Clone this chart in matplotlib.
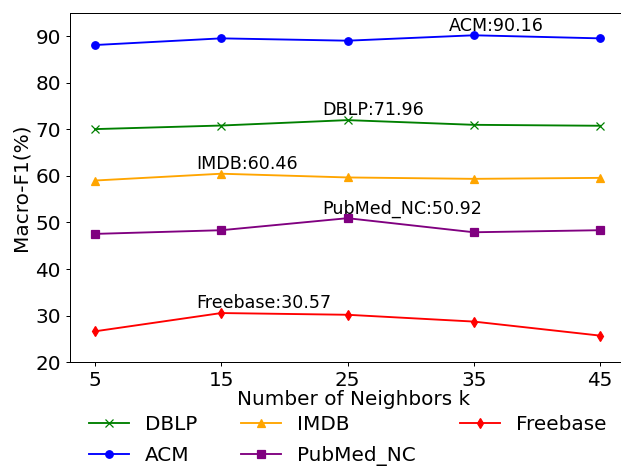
import matplotlib
matplotlib.use("Agg")
import matplotlib.pyplot as plt

k_values = [5, 15, 25, 35, 45]
dblp = [70.03, 70.8, 71.96, 70.95, 70.75]
acm = [88.07, 89.5, 89.0, 90.16, 89.5]
imdb = [59.0, 60.46, 59.66, 59.36, 59.57]
pubmed = [47.55, 48.34, 50.92, 47.9, 48.34]
freebase = [26.65, 30.57, 30.2, 28.74, 25.73]

series = [
    ("DBLP", dblp, "green", "x"),
    ("ACM", acm, "blue", "o"),
    ("IMDB", imdb, "orange", "^"),
    ("PubMed_NC", pubmed, "purple", "s"),
    ("Freebase", freebase, "red", "d"),
]

DPI = 90
fig = plt.figure(figsize=(621 / DPI, 466 / DPI), dpi=DPI)
ax = fig.add_axes([0.1123, 0.2225, 0.9149, 0.7502])

for name, vals, color, marker in series:
    ax.plot(k_values, vals, color=color, marker=marker, linewidth=1.5,
            markersize=6, label=name)
    i = max(range(len(vals)), key=lambda j: vals[j])
    ax.text(k_values[i] - 2, vals[i] + 1, f"{name}:{vals[i]:.2f}",
            ha="left", va="baseline", fontsize=14)

ax.set_xticks(k_values)
ax.set_xlim(3, 48)
ax.set_ylim(20, 95)
ax.set_yticks([20, 30, 40, 50, 60, 70, 80, 90])
ax.tick_params(labelsize=16)
ax.set_xlabel("Number of Neighbors k", fontsize=16, labelpad=0)
ax.set_ylabel("Macro-F1(%)", fontsize=16)

fig.legend(loc="center", bbox_to_anchor=(0.5596, 0.054), ncol=3,
           frameon=False, fontsize=16, handlelength=2, columnspacing=2.2,
           labelspacing=0.6, borderpad=0, borderaxespad=0)

fig.savefig("out.png", dpi=DPI)
